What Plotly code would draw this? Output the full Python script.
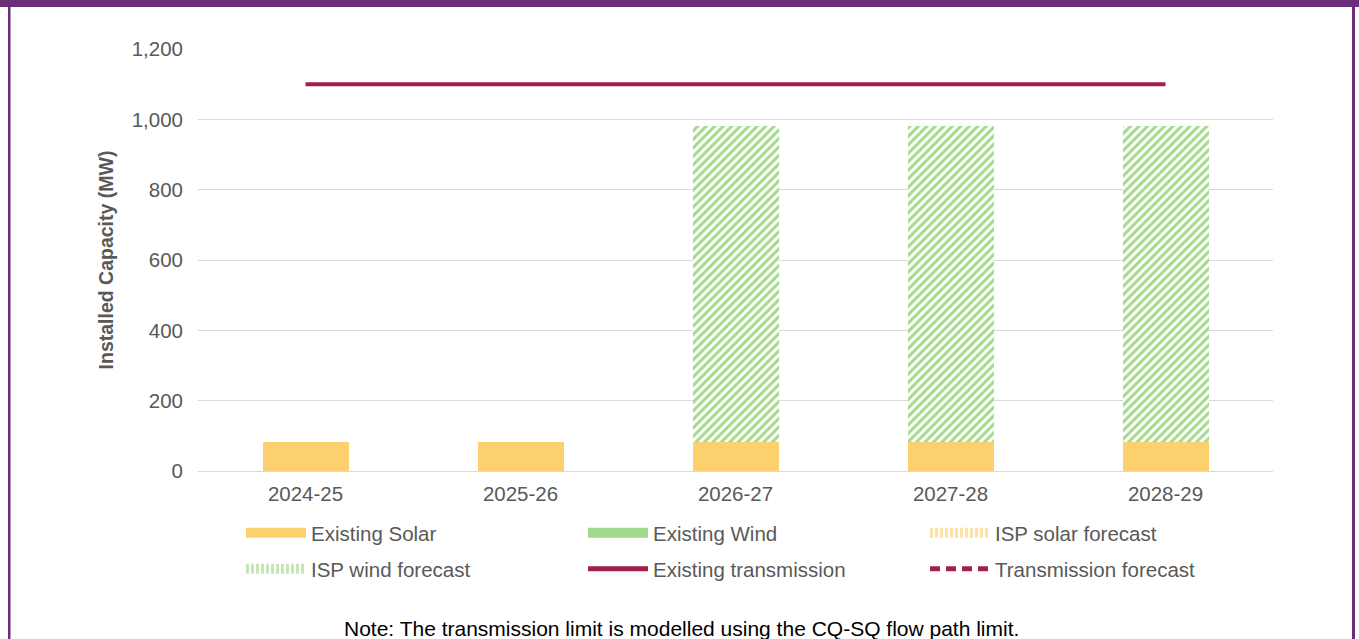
import plotly.graph_objects as go

# Financial years on the category axis
years = ["2024-25", "2025-26", "2026-27", "2027-28", "2028-29"]

# Installed capacity by source (MW)
existing_solar = [82, 82, 82, 82, 82]
existing_wind = [0, 0, 0, 0, 0]
isp_solar_forecast = [0, 0, 0, 0, 0]
isp_wind_forecast = [0, 0, 900, 900, 900]

# Transmission limits (MW)
existing_transmission = [1100, 1100, 1100, 1100, 1100]
transmission_forecast = [None, None, None, None, None]

y_ticks = [0, 200, 400, 600, 800, 1000, 1200]

SOLAR = "#FCD06F"
WIND = "#A3D98B"
TX = "#A1204A"
PURPLE = "#6B2F7A"
GRID = "#D9D9D9"
TEXT = "#595959"
FONT = "Arial, Liberation Sans, sans-serif"
FS = 20.5

W, H = 1359, 639
M_L, M_R, M_T, M_B = 198, 86, 49, 168

fig = go.Figure()

bar_specs = [
    ("Existing Solar", existing_solar, SOLAR, None),
    ("Existing Wind", existing_wind, WIND, None),
    ("ISP solar forecast", isp_solar_forecast, SOLAR, "/"),
    ("ISP wind forecast", isp_wind_forecast, WIND, "/"),
]
for name, vals, col, shape in bar_specs:
    if shape:
        marker = dict(color="white",
                      pattern=dict(shape=shape, fgcolor=col, bgcolor="white",
                                   size=6, solidity=0.5, fillmode="replace"),
                      line=dict(width=0))
    else:
        marker = dict(color=col, line=dict(width=0))
    fig.add_trace(go.Bar(x=years, y=vals, name=name, marker=marker,
                         showlegend=False))

fig.add_trace(go.Scatter(x=years, y=existing_transmission, mode="lines",
                         name="Existing transmission", showlegend=False,
                         line=dict(color=TX, width=4)))
fig.add_trace(go.Scatter(x=years, y=transmission_forecast, mode="lines",
                         name="Transmission forecast", showlegend=False,
                         line=dict(color=TX, width=4, dash="dash")))

# Legend entries drawn as wide swatches, two rows of three
legend_items = [
    ("Existing Solar", dict(color=SOLAR, width=10), "legend"),
    ("Existing Wind", dict(color=WIND, width=10), "legend"),
    ("ISP solar forecast", dict(color="#FDE2A6", width=10, dash="3px,2px"), "legend"),
    ("ISP wind forecast", dict(color="#C4E7B4", width=10, dash="3px,2px"), "legend2"),
    ("Existing transmission", dict(color=TX, width=5), "legend2"),
    ("Transmission forecast", dict(color=TX, width=5, dash="10px,6px"), "legend2"),
]
for name, line, leg in legend_items:
    fig.add_trace(go.Scatter(x=[None], y=[None], mode="lines", name=name,
                             line=line, showlegend=True, legend=leg,
                             hoverinfo="skip"))

px_x = lambda p: (p - M_L) / (W - M_L - M_R)
px_y = lambda p: (H - M_B - p) / (H - M_T - M_B)

shapes = [
    dict(type="rect", xref="paper", yref="paper", x0=px_x(0), x1=px_x(W),
         y0=px_y(7), y1=px_y(0), fillcolor=PURPLE, line=dict(width=0)),
    dict(type="rect", xref="paper", yref="paper", x0=px_x(8), x1=px_x(10.5),
         y0=px_y(H), y1=px_y(0), fillcolor=PURPLE, line=dict(width=0)),
    dict(type="rect", xref="paper", yref="paper", x0=px_x(1352), x1=px_x(1355),
         y0=px_y(H), y1=px_y(0), fillcolor=PURPLE, line=dict(width=0)),
]

legend_common = dict(orientation="h", xref="container", yref="container",
                     x=241 / W, xanchor="left", yanchor="top",
                     entrywidth=267, entrywidthmode="pixels",
                     traceorder="normal", itemwidth=60,
                     font=dict(size=FS, color=TEXT), bgcolor="rgba(0,0,0,0)")

fig.update_layout(
    width=W, height=H,
    margin=dict(l=M_L, r=M_R, t=M_T, b=M_B, autoexpand=False),
    paper_bgcolor="white", plot_bgcolor="white",
    barmode="stack", bargap=0.6,
    font=dict(family=FONT, size=FS, color=TEXT),
    xaxis=dict(showgrid=False, showline=True, linecolor=GRID, linewidth=1,
               ticks="", ticklabelstandoff=4,
               tickfont=dict(size=FS, color=TEXT)),
    yaxis=dict(range=[0, 1200], tickvals=y_ticks, tickformat=",",
               showgrid=True, gridcolor=GRID, gridwidth=1, zeroline=False,
               showline=False, ticks="", ticklen=0, ticklabelstandoff=14,
               tickfont=dict(size=FS, color=TEXT),
               title=dict(text="<b>Installed Capacity (MW)</b>",
                          font=dict(size=19.5, color=TEXT), standoff=12)),
    legend=dict(legend_common, y=1 - 513 / H),
    legend2=dict(legend_common, y=1 - 549 / H),
    shapes=shapes,
    annotations=[dict(text="Note: The transmission limit is modelled using the CQ-SQ flow path limit.",
                      xref="paper", yref="paper", x=px_x(681), y=px_y(628),
                      xanchor="center", yanchor="middle", showarrow=False,
                      font=dict(size=21, color="black", family=FONT))],
)

fig.write_html("out.html")
